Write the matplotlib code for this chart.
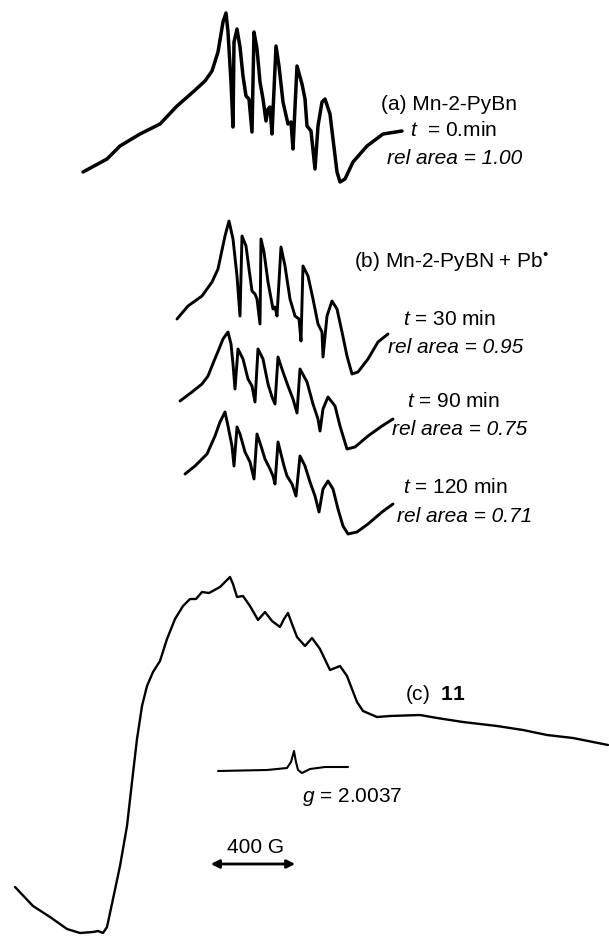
import matplotlib
matplotlib.use("Agg")
import matplotlib.pyplot as plt

plt.rcParams["font.family"] = ["Liberation Sans", "DejaVu Sans"]
plt.rcParams["mathtext.fontset"] = "custom"
plt.rcParams["mathtext.rm"] = "Liberation Sans"
plt.rcParams["mathtext.it"] = "Liberation Sans:italic"
plt.rcParams["mathtext.bf"] = "Liberation Sans:bold"

# --- traced spectra (field position, signal) in page units ---
# (a) Mn-2-PyBn, t = 0
field_a = [83, 107, 120, 140, 160, 177, 193, 205, 212, 218, 223, 226, 228, 231, 233, 234,
           237, 240, 243, 246, 249, 252, 254, 257, 260, 263, 266, 268, 270, 272, 276, 279,
           283, 288, 291, 293, 297, 302, 305, 307, 311, 315, 318, 322, 325, 330, 333, 337,
           340, 345, 353, 367, 383, 402]
sig_a = [173, 160, 147, 135, 125, 107, 93, 82, 72, 53, 23, 14, 33, 83, 128, 43,
         30, 48, 77, 97, 100, 133, 33, 50, 83, 100, 122, 110, 108, 135, 47, 67,
         103, 125, 123, 150, 67, 85, 100, 127, 132, 170, 127, 103, 100, 115, 140, 173,
         183, 180, 163, 147, 135, 132]

# (b) + Pb*, t = 30 min
field_b30 = [177, 188, 202, 212, 218, 225, 229, 233, 237, 240, 242, 246, 249, 252, 255, 257,
             260, 261, 264, 268, 273, 275, 277, 281, 285, 290, 295, 299, 301, 303, 308, 313,
             318, 322, 323, 327, 332, 337, 342, 347, 352, 358, 368, 378, 388]
sig_b30 = [320, 307, 297, 283, 270, 237, 222, 240, 277, 317, 237, 247, 270, 292, 295, 300,
           325, 240, 253, 283, 310, 308, 317, 248, 267, 300, 317, 320, 342, 267, 277, 300,
           325, 333, 358, 317, 302, 310, 333, 357, 375, 373, 360, 343, 335]

# t = 90 min
field_b90 = [180, 192, 202, 208, 214, 219, 223, 228, 231, 233, 235, 238, 243, 248, 252, 255,
             258, 263, 268, 272, 275, 278, 283, 288, 293, 297, 300, 307, 313, 318, 320, 323,
             328, 335, 340, 347, 355, 368, 382, 393]
sig_b90 = [402, 393, 385, 377, 362, 350, 340, 333, 345, 365, 390, 350, 360, 380, 387, 403,
           350, 360, 385, 398, 405, 358, 373, 387, 400, 414, 370, 383, 405, 420, 432, 410,
           398, 407, 427, 450, 448, 437, 427, 420]

# t = 120 min
field_b120 = [185, 195, 207, 215, 220, 225, 228, 232, 234, 237, 240, 245, 250, 254, 257, 261,
              265, 270, 273, 275, 278, 281, 284, 287, 292, 296, 300, 305, 310, 315, 319, 323,
              328, 333, 338, 343, 348, 357, 368, 382, 393]
sig_b120 = [475, 467, 455, 437, 423, 413, 427, 447, 467, 428, 435, 453, 463, 480, 435, 447,
            460, 470, 477, 485, 443, 455, 467, 477, 485, 497, 457, 467, 483, 497, 513, 490,
            482, 490, 510, 527, 535, 533, 525, 513, 505]

# (c) compound 11
field_c = [15, 33, 50, 67, 80, 93, 98, 103, 107, 113, 120, 127, 132, 137, 142, 147, 153, 160,
           167, 175, 183, 190, 196, 202, 209, 220, 225, 230, 233, 237, 243, 250, 258, 265,
           272, 280, 284, 288, 292, 297, 305, 312, 320, 330, 340, 347, 352, 357, 363, 377,
           390, 420, 437, 463, 497, 523, 547, 573, 608]
sig_c = [888, 907, 918, 930, 934, 933, 932, 934, 928, 900, 867, 827, 783, 740, 707, 687, 673,
         662, 640, 620, 607, 600, 600, 593, 594, 588, 583, 578, 585, 598, 597, 607, 621, 613,
         622, 628, 620, 614, 625, 638, 647, 639, 650, 671, 667, 677, 690, 703, 712, 718,
         717, 716, 719, 723, 727, 731, 736, 739, 746]

# g = 2.0037 reference line
field_g = [218, 267, 287, 291, 294, 296, 298, 302, 310, 325, 348]
sig_g = [772, 771, 769, 763, 752, 763, 771, 774, 770, 768, 768]

fig = plt.figure(figsize=(6.09, 9.37), dpi=100)
ax = fig.add_axes([0, 0, 1, 1])
ax.set_xlim(0, 609)
ax.set_ylim(937, 0)
ax.axis("off")

kw = dict(color="black", solid_joinstyle="round", solid_capstyle="round")
ax.plot(field_a, sig_a, lw=2.5, **kw)
ax.plot(field_b30, sig_b30, lw=2.1, **kw)
ax.plot(field_b90, sig_b90, lw=2.1, **kw)
ax.plot(field_b120, sig_b120, lw=2.1, **kw)
ax.plot(field_c, sig_c, lw=1.7, **kw)
ax.plot(field_g, sig_g, lw=1.5, **kw)

fs = 15
labels = [
    (381, 104, "(a) Mn-2-PyBn", "normal"),
    (410, 130, r"$\it{t}$  = 0.min", "normal"),
    (387, 158, "rel area = 1.00", "italic"),
    (354, 262, "(b) Mn-2-PyBN + Pb$^{•}$", "normal"),
    (403, 320, r"$\it{t}$ = 30 min", "normal"),
    (388, 348, "rel area = 0.95", "italic"),
    (407, 402, r"$\it{t}$ = 90 min", "normal"),
    (392, 430, "rel area = 0.75", "italic"),
    (403, 488, r"$\it{t}$ = 120 min", "normal"),
    (397, 517, "rel area = 0.71", "italic"),
    (405, 695, r"(c)  $\bf{11}$", "normal"),
    (302, 797, r"$\it{g}$ = 2.0037", "normal"),
    (227, 848, "400 G", "normal"),
]
for x, y, s, st in labels:
    ax.text(x, y, s, fontsize=fs, style=st, ha="left", va="center")

# 400 G scale bar
ax.annotate("", xy=(208, 865), xytext=(298, 865),
            arrowprops=dict(arrowstyle="<|-|>", color="black", lw=2, mutation_scale=12))

fig.savefig("out.png", dpi=100)
